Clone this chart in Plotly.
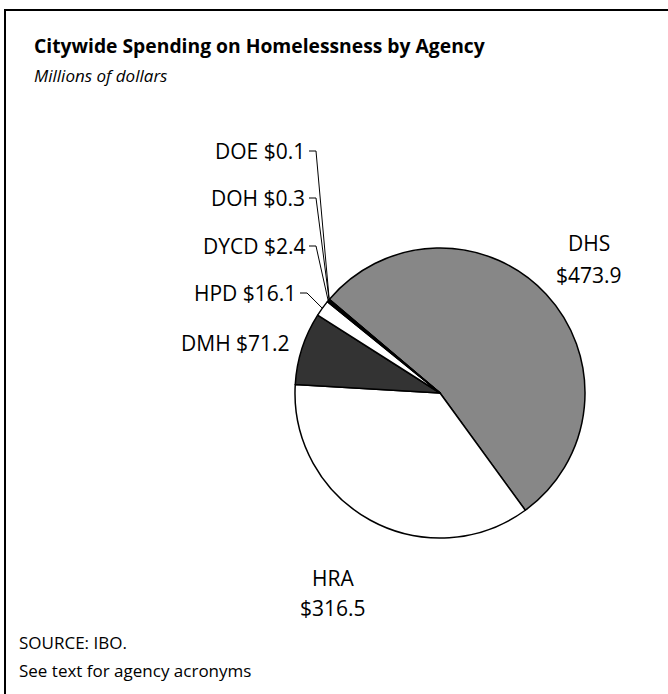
import math
import plotly.graph_objects as go

# ---- data ----
agencies = ["DHS", "HRA", "DMH", "HPD", "DYCD", "DOH", "DOE"]
spending = [473.9, 316.5, 71.2, 16.1, 2.4, 0.3, 0.1]
slice_colors = ["#878787", "#FFFFFF", "#333333", "#FFFFFF", "#000000", "#5a0a5a", "#FFFFFF"]

title = "Citywide Spending on Homelessness by Agency"
subtitle = "Millions of dollars"
source_lines = ["SOURCE: IBO.", "See text for agency acronyms"]

W, H = 668, 694
FONT = "Open Sans"
ROT = -49.8
LBL = 21

# pie geometry (pixels)
CX, CY, R = 440, 393, 145


def px(x):
    return x / W


def py(y):
    return 1 - y / H


fig = go.Figure(go.Pie(
    labels=agencies,
    values=spending,
    sort=False,
    direction="clockwise",
    rotation=ROT,
    textinfo="none",
    hoverinfo="label+value",
    marker=dict(colors=slice_colors, line=dict(color="#000000", width=1.5)),
    domain=dict(x=[px(CX - R), px(CX + R)], y=[py(CY + R), py(CY - R)]),
    showlegend=False,
))

total = sum(spending)


def mid_point(i, rr=R):
    cum = sum(spending[:i]) + spending[i] / 2
    ang = math.radians(cum / total * 360 + ROT)
    return CX + rr * math.sin(ang), CY - rr * math.cos(ang)


annotations = []
shapes = []


def add_text(x, y, text, size, anchor="left"):
    annotations.append(dict(x=px(x), y=py(y), xref="paper", yref="paper", text=text,
                            showarrow=False, xanchor=anchor, yanchor="middle",
                            font=dict(family=FONT, size=size, color="#000")))


# title & subtitle
add_text(32, 45, "<b>" + title + "</b>", 19.3)
add_text(32, 75, "<i>" + subtitle + "</i>", 17)
for k, line in enumerate(source_lines):
    add_text(17, 642 + 28 * k, line, 17)

# labels with leaders
label_layout = {
    # name: (text right x, text y, leader)
    "DOE": (307, 151, True),
    "DOH": (307, 198, True),
    "DYCD": (307, 246, True),
    "HPD": (298, 293, True),
    "DMH": (292, 343, False),
}
for i, name in enumerate(agencies):
    txt = f"{name} ${spending[i]:.1f}"
    if name in label_layout:
        xr, yy, lead = label_layout[name]
        add_text(xr, yy, txt, LBL, "right")
        if lead:
            ex, ey = mid_point(i)
            path = f"M {px(xr + 2)} {py(yy)} L {px(xr + 9)} {py(yy)} L {px(ex)} {py(ey)}"
            shapes.append(dict(type="path", xref="paper", yref="paper", path=path,
                               line=dict(color="#000", width=1)))

add_text(589, 243, agencies[0], LBL, "center")
add_text(589, 275, f"${spending[0]:.1f}", LBL, "center")
add_text(333, 578, agencies[1], LBL, "center")
add_text(333, 608, f"${spending[1]:.1f}", LBL, "center")

# frame (top & left edges visible)
shapes.append(dict(type="rect", xref="paper", yref="paper", x0=px(5), y0=py(10), x1=1.05, y1=-0.05,
                   line=dict(color="#000", width=2)))

fig.update_layout(
    width=W, height=H,
    margin=dict(l=0, r=0, t=0, b=0),
    paper_bgcolor="#FFFFFF",
    plot_bgcolor="#FFFFFF",
    annotations=annotations,
    shapes=shapes,
    font=dict(family=FONT),
)

fig.write_html("out.html")
